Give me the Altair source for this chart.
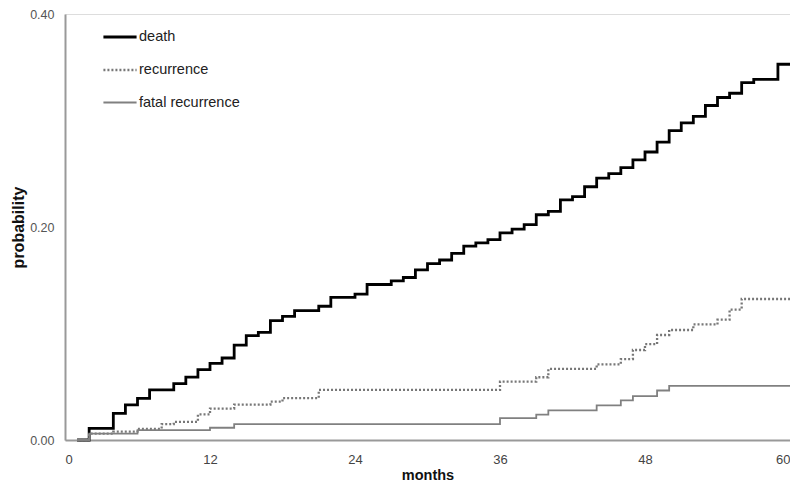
import altair as alt
import pandas as pd

# ---- data (months, cumulative probability, step-after) ----
death_months = [1, 2, 4, 5, 6, 7, 9, 10, 11, 12, 13, 14, 15, 16, 17, 18, 19, 21, 22, 24,
                25, 27, 28, 29, 30, 31, 32, 33, 34, 35, 36, 37, 38, 39, 40, 41, 42, 43,
                44, 45, 46, 47, 48, 49, 50, 51, 52, 53, 54, 55, 56, 57, 59, 60]
death_prob = [0.0, 0.011, 0.025, 0.033, 0.039, 0.047, 0.053, 0.059, 0.066, 0.072, 0.077,
              0.089, 0.098, 0.101, 0.112, 0.116, 0.1215, 0.1256, 0.134, 0.137, 0.146,
              0.1495, 0.1526, 0.1597, 0.1656, 0.169, 0.1752, 0.182, 0.1851, 0.1882,
              0.1944, 0.198, 0.2022, 0.2115, 0.2146, 0.2254, 0.2285, 0.2378, 0.2459,
              0.2502, 0.2558, 0.263, 0.2704, 0.2797, 0.2905, 0.2977, 0.3039, 0.3141,
              0.3216, 0.3256, 0.3355, 0.3386, 0.3528, 0.3528]

recurrence_months = [1, 2, 4, 6, 8, 9, 11, 12, 14, 17, 18, 21, 36, 39, 40, 44, 46, 47,
                     48, 49, 50, 52, 54, 55, 56, 60]
recurrence_prob = [0.0, 0.006, 0.0078, 0.0105, 0.0149, 0.017, 0.024, 0.0295, 0.0332,
                   0.036, 0.0394, 0.047, 0.0549, 0.0589, 0.0667, 0.071, 0.076, 0.0845,
                   0.09, 0.0986, 0.1033, 0.1085, 0.113, 0.1225, 0.1324, 0.1324]

fatal_months = [1, 2, 6, 12, 14, 36, 39, 40, 44, 46, 47, 49, 50, 60]
fatal_prob = [0.0, 0.006, 0.0093, 0.0115, 0.0149, 0.0205, 0.0239, 0.0279, 0.0326,
              0.0372, 0.0412, 0.0465, 0.0509, 0.0509]

series_names = ["death", "recurrence", "fatal recurrence"]
x_ticks = [0, 12, 24, 36, 48, 60]
y_ticks = [0.0, 0.2, 0.4]

rows = []
for name, ms, ps in [(series_names[0], death_months, death_prob),
                     (series_names[1], recurrence_months, recurrence_prob),
                     (series_names[2], fatal_months, fatal_prob)]:
    for m, p in zip(ms, ps):
        rows.append({"series": name, "month": m, "prob": p})
df = pd.DataFrame(rows)

FONT = "Liberation Sans, Arial, sans-serif"

legend = alt.Legend(
    title=None, orient="none", legendX=37, legendY=5,
    symbolType="stroke", symbolSize=1100, labelFontSize=14.5, labelColor="#222222",
    labelFont=FONT, labelOffset=1, rowPadding=8,
)

chart = alt.Chart(df).mark_line(interpolate="step-after").encode(
    x=alt.X("month:Q", scale=alt.Scale(domain=[0, 60], nice=False),
            axis=alt.Axis(values=x_ticks, title="months", grid=False, ticks=False,
                          domainColor="#999999", domainWidth=2,
                          labelColor="#444444", labelFontSize=13, labelFont=FONT,
                          labelPadding=13, titleFont=FONT, titleFontSize=14.5,
                          titleFontWeight="bold", titleColor="#111111", titlePadding=2)),
    y=alt.Y("prob:Q", scale=alt.Scale(domain=[0, 0.4], nice=False),
            axis=alt.Axis(values=y_ticks, format=".2f", title="probability", grid=False,
                          ticks=False, domainColor="#999999", domainWidth=2,
                          labelColor="#555555", labelFontSize=12.5, labelFont=FONT,
                          labelPadding=11, titleFont=FONT, titleFontSize=16,
                          titleFontWeight="bold", titleColor="#111111", titlePadding=3)),
    color=alt.Color("series:N", scale=alt.Scale(domain=series_names,
                                                range=["#000000", "#777777", "#808080"]),
                    legend=legend),
    strokeDash=alt.StrokeDash("series:N", scale=alt.Scale(domain=series_names,
                                                          range=[[1, 0], [2, 2], [1, 0]]),
                              legend=legend),
    strokeWidth=alt.StrokeWidth("series:N", scale=alt.Scale(domain=series_names,
                                                            range=[2.8, 1.8, 2.0]),
                                legend=legend),
).properties(
    width=725, height=426,
    autosize=alt.AutoSizeParams(type="none"),
    padding={"left": 57, "top": 6, "right": 0, "bottom": 43},
).configure_view(stroke=None).configure(background="white")

chart.save("out.html", embed_options={"renderer": "svg", "actions": False})
